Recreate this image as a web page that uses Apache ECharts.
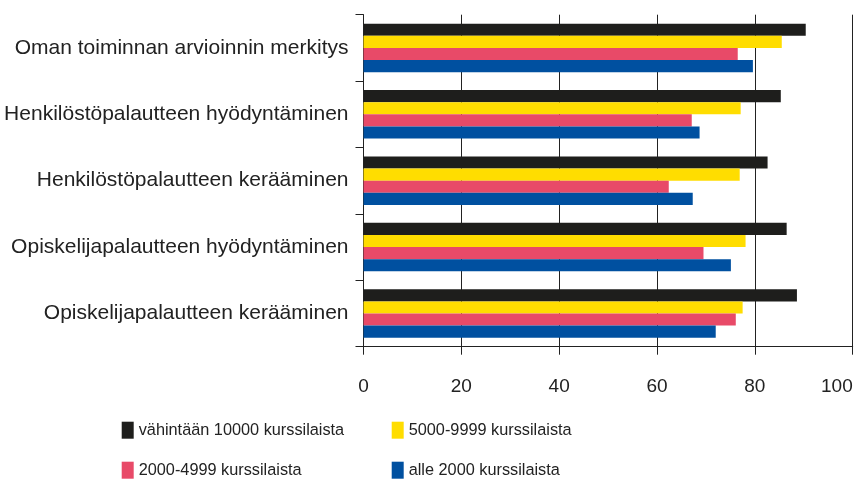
<!DOCTYPE html>
<html>
<head>
<meta charset="utf-8">
<script src="https://cdn.jsdelivr.net/npm/echarts@6/dist/echarts.min.js"></script>
<style>html,body{margin:0;padding:0;background:#fff}#c{width:858px;height:481px}</style>
</head>
<body>
<div id="c"></div>
<script>
var categories = ["Oman toiminnan arvioinnin merkitys", "Henkilöstöpalautteen hyödyntäminen", "Henkilöstöpalautteen kerääminen", "Opiskelijapalautteen hyödyntäminen", "Opiskelijapalautteen kerääminen"];
var seriesNames = ["vähintään 10000 kurssilaista", "5000-9999 kurssilaista", "2000-4999 kurssilaista", "alle 2000 kurssilaista"];
var v10000 = [90.4, 85.3, 82.6, 86.5, 88.6];
var v5000 = [85.5, 77.1, 76.9, 78.1, 77.5];
var v2000 = [76.5, 67.1, 62.4, 69.5, 76.1];
var vAlle = [79.6, 68.7, 67.3, 75.1, 72.0];
var xTicks = [0, 20, 40, 60, 80, 100];

var colors = ["#1e1e1c", "#ffdd00", "#e84a68", "#0050a0"];
var values = [v10000, v5000, v2000, vAlle];
var font = "'Liberation Sans', Arial, sans-serif";

var chart = echarts.init(document.getElementById('c'), null, {renderer: 'canvas'});
var series = seriesNames.map(function (n, i) {
  return {
    name: n, type: 'bar', data: values[i], barGap: '0%', barCategoryGap: '27%',
    itemStyle: {color: colors[i]}, silent: true, animation: false
  };
});
var legendPos = [[121.7, 421.7], [391.7, 421.7], [121.7, 461.7], [391.7, 461.7]];
var legends = seriesNames.map(function (n, i) {
  return {
    data: [n], left: legendPos[i][0], top: legendPos[i][1], itemWidth: 12, itemHeight: 17, itemGap: 0,
    padding: 0, icon: 'rect', selectedMode: false,
    textStyle: {fontFamily: font, fontSize: 16.3, color: '#222'}
  };
});
chart.setOption({
  animation: false,
  color: colors,
  grid: {left: 363.5, right: 5.3, top: 14.7, bottom: 134.3, containLabel: false, outerBoundsMode: 'none'},
  legend: legends,
  xAxis: {
    type: 'value', min: xTicks[0], max: xTicks[xTicks.length - 1], interval: 20,
    axisLine: {show: true, lineStyle: {color: '#222', width: 1}},
    axisTick: {show: true, length: 8, lineStyle: {color: '#222'}},
    splitLine: {show: true, lineStyle: {color: '#222', width: 1}},
    axisLabel: {fontFamily: font, fontSize: 19, color: '#222', margin: 31, alignMaxLabel: 'right'}
  },
  yAxis: {
    type: 'category', data: categories, inverse: true,
    axisLine: {show: true, lineStyle: {color: '#222', width: 1}},
    axisTick: {show: true, length: 8, lineStyle: {color: '#222'}},
    axisLabel: {fontFamily: font, fontSize: 21, color: '#222', margin: 15}
  },
  series: series
});
</script>
</body>
</html>
